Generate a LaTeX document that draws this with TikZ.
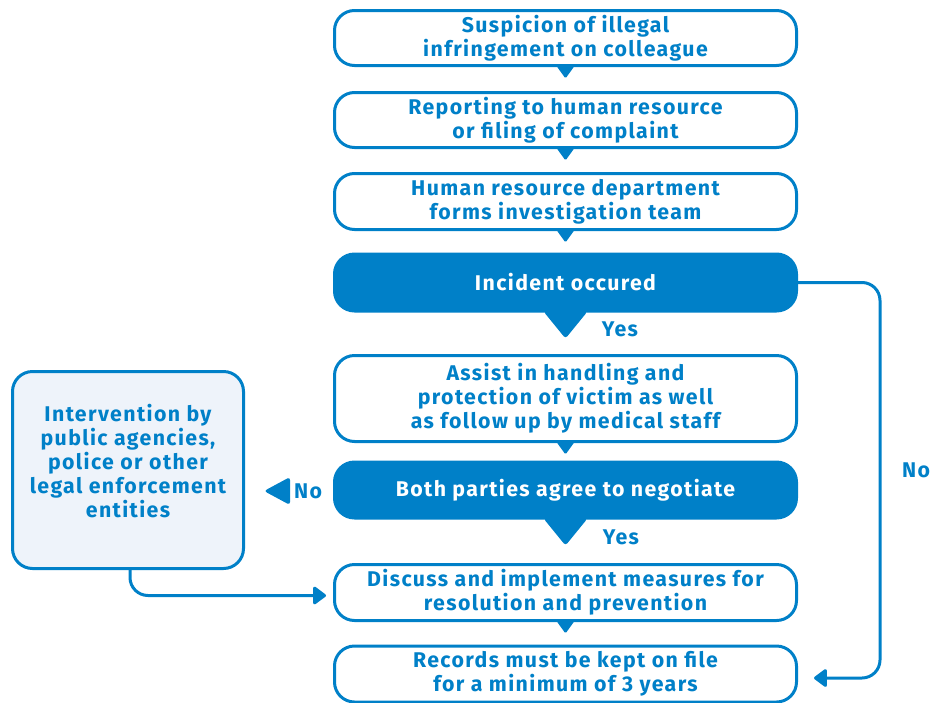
\documentclass[tikz,border=0pt]{standalone}
\usepackage{fontspec}
\setmainfont{Fira Sans}[LetterSpace=6.5]
\usetikzlibrary{arrows.meta}
\definecolor{mblue}{RGB}{0,128,200}
\definecolor{lightbg}{RGB}{238,243,250}
\begin{document}
\begin{tikzpicture}[x=1pt,y=-1pt,
  txt/.style={font=\fontsize{21.3}{24}\selectfont\bfseries, align=center, inner sep=0pt},
  wbox/.style={txt, draw=mblue, line width=3pt, rounded corners=20pt, fill=white,
    minimum width=462pt, text=mblue},
  fbox/.style={wbox, fill=mblue, text=white},
  lbl/.style={txt, text=mblue},
  ptr/.style={fill=mblue, rounded corners=1.5pt},
  bigptr/.style={fill=mblue, rounded corners=3pt},
  conn/.style={draw=mblue, line width=3pt, rounded corners=18pt,
    -{Triangle[length=14pt,width=20pt,round]}}
]
\useasboundingbox (0,0) rectangle (932,702);

\node[wbox, minimum height=55pt] (b1) at (565.5,38) {Suspicion of illegal\\infringement on colleague};
\node[wbox, minimum height=55pt] (b2) at (565.5,120) {Reporting to human resource\\or filing of complaint};
\node[wbox, minimum height=56pt] (b3) at (565.5,201.5) {Human resource department\\forms investigation team};
\node[fbox, minimum height=57pt] (b4) at (565.5,282.5) {Incident occured};
\node[wbox, minimum height=86pt] (b5) at (565.5,398.5) {Assist in handling and\\protection of victim as well\\as follow up by medical staff};
\node[fbox, minimum height=56pt] (b6) at (565.5,490) {Both parties agree to negotiate};
\node[wbox, minimum height=56pt] (b7) at (565.5,592.5) {Discuss and implement measures for\\resolution and prevention};
\node[wbox, minimum height=56pt] (b8) at (565.5,674) {Records must be kept on file\\for a minimum of 3 years};

\node[draw=mblue, line width=3pt, rounded corners=20pt, fill=lightbg,
  minimum width=231pt, minimum height=197pt] (lb) at (128,470) {};
\node[lbl] (lbt) at (128,461) {Intervention by\\public agencies,\\police or other\\legal enforcement\\entities};

% small pointers
\foreach \b in {b1,b2,b3,b5,b7}{
  \fill[ptr] ([xshift=-9pt,yshift=1pt]\b.south) -- ([xshift=9pt,yshift=1pt]\b.south) -- ([yshift=-11.5pt]\b.south) -- cycle;
}
% big pointers
\foreach \b in {b4,b6}{
  \fill[bigptr] ([xshift=-22pt,yshift=1pt]\b.south) -- ([xshift=22pt,yshift=1pt]\b.south) -- ([yshift=-26pt]\b.south) -- cycle;
}

\node[lbl] (yes1) at (620,329) {Yes};
\node[lbl] (yes2) at (621,537) {Yes};
\node[lbl] (no1) at (308,491) {No};
\node[lbl] (no2) at (916,470) {No};

% left pointing triangle
\coordinate (lt) at (264,491);
\fill[bigptr] (lt) -- ([shift={(26,-14)}]lt) -- ([shift={(26,14)}]lt) -- cycle;

% connectors
\draw[conn, shorten >=7pt] ([xshift=2pt]lb.south) |- ([yshift=-3pt]b7.west);
\draw[conn, shorten >=16pt] (b4.east) -- ++(82,0) |- ([yshift=-4pt]b8.east);
\end{tikzpicture}
\end{document}
